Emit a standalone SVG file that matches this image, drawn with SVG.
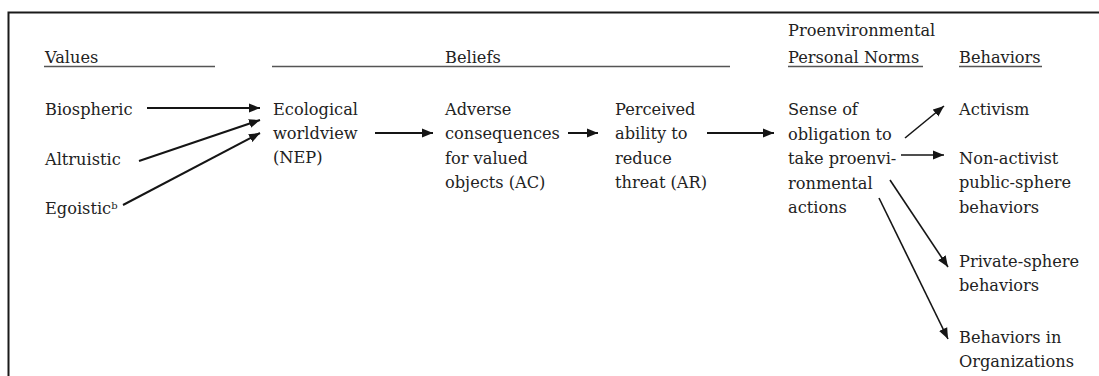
<svg xmlns="http://www.w3.org/2000/svg" width="1099" height="376" viewBox="0 0 1099 376">
  <style>
    text { font-family: "DejaVu Serif", "Liberation Serif", serif; font-size: 16.2px; fill: #222; }
    .rule { stroke: #555; stroke-width: 1.6; }
    .frame { stroke: #1a1a1a; stroke-width: 2; fill: none; }
    .arrow { stroke: #151515; stroke-width: 2; fill: none; marker-end: url(#head); }
    .thin { stroke-width: 1.6; }
    .sup { font-size: 10px; }
  </style>
  <defs>
    <marker id="head" markerUnits="userSpaceOnUse" markerWidth="12" markerHeight="10" refX="11" refY="5" orient="auto">
      <path d="M0,0.5 L11,5 L0,9.5 Z" fill="#151515"/>
    </marker>
  </defs>

  <rect width="1099" height="376" fill="#fff"/>

  <!-- frame: top and left edges -->
  <path class="frame" d="M8.5,376 V12.5 H1099"/>

  <!-- column headers -->
  <g id="values-header">
    <text x="45" y="63">Values</text>
    <line class="rule" x1="44" y1="66.5" x2="215" y2="66.5"/>
  </g>
  <g id="beliefs-header">
    <text x="445" y="63">Beliefs</text>
    <line class="rule" x1="272" y1="66.5" x2="730" y2="66.5"/>
  </g>
  <g id="norms-header">
    <text x="788" y="36">Proenvironmental</text>
    <text x="788" y="63">Personal Norms</text>
    <line class="rule" x1="788" y1="66.5" x2="923" y2="66.5"/>
  </g>
  <g id="behaviors-header">
    <text x="959" y="63">Behaviors</text>
    <line class="rule" x1="959" y1="66.5" x2="1042" y2="66.5"/>
  </g>

  <!-- values -->
  <g id="biospheric"><text x="45" y="115">Biospheric</text></g>
  <g id="altruistic"><text x="45" y="165">Altruistic</text></g>
  <g id="egoistic"><text x="45" y="214">Egoistic<tspan class="sup" dy="-5">b</tspan></text></g>

  <!-- beliefs -->
  <g id="nep">
    <text x="273" y="115">Ecological<tspan x="273" dy="24">worldview</tspan><tspan x="273" dy="24">(NEP)</tspan></text>
  </g>
  <g id="ac">
    <text x="445" y="115">Adverse<tspan x="445" dy="24">consequences</tspan><tspan x="445" dy="24.5">for valued</tspan><tspan x="445" dy="24.5">objects (AC)</tspan></text>
  </g>
  <g id="ar">
    <text x="615" y="115">Perceived<tspan x="615" dy="24">ability to</tspan><tspan x="615" dy="24.5">reduce</tspan><tspan x="615" dy="24.5">threat (AR)</tspan></text>
  </g>

  <!-- personal norm -->
  <g id="norm">
    <text x="788" y="115">Sense of<tspan x="788" dy="24.5">obligation to</tspan><tspan x="788" dy="24.5">take proenvi-</tspan><tspan x="788" dy="24.5">ronmental</tspan><tspan x="788" dy="24.5">actions</tspan></text>
  </g>

  <!-- behaviors -->
  <g id="activism"><text x="959" y="115">Activism</text></g>
  <g id="nonactivist">
    <text x="959" y="163.5">Non-activist<tspan x="959" dy="24.5">public-sphere</tspan><tspan x="959" dy="24.5">behaviors</tspan></text>
  </g>
  <g id="private">
    <text x="959" y="267">Private-sphere<tspan x="959" dy="24">behaviors</tspan></text>
  </g>
  <g id="organizations">
    <text x="959" y="343">Behaviors in<tspan x="959" dy="24">Organizations</tspan></text>
  </g>

  <!-- connectors -->
  <g id="connectors">
    <line class="arrow" x1="147" y1="108" x2="260" y2="108"/>
    <line class="arrow" x1="139" y1="161" x2="260" y2="120"/>
    <line class="arrow" x1="123" y1="205" x2="260" y2="133"/>
    <line class="arrow" x1="375" y1="133" x2="433" y2="133"/>
    <line class="arrow" x1="568" y1="133" x2="598" y2="133"/>
    <line class="arrow" x1="707" y1="133" x2="774" y2="133"/>
    <line class="arrow thin" x1="905" y1="138" x2="944" y2="106"/>
    <line class="arrow thin" x1="901" y1="155" x2="944" y2="155"/>
    <line class="arrow thin" x1="890" y1="180" x2="948" y2="267"/>
    <line class="arrow thin" x1="879" y1="198" x2="948" y2="339"/>
  </g>
</svg>
